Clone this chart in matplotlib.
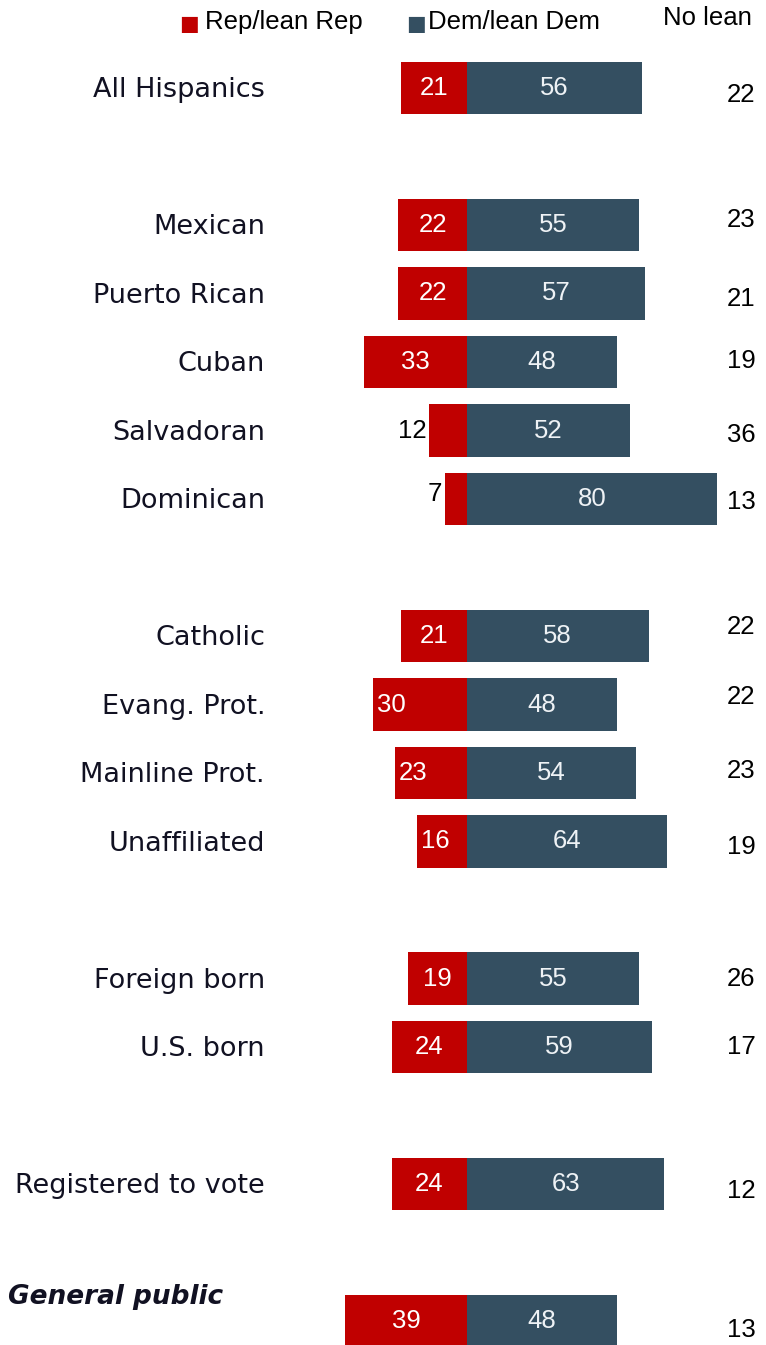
import numpy as np
import matplotlib
matplotlib.use('Agg')
import matplotlib.pyplot as plt

# data
groups = ['All Hispanics', 'Mexican', 'Puerto Rican', 'Cuban', 'Salvadoran', 'Dominican',
          'Catholic', 'Evang. Prot.', 'Mainline Prot.', 'Unaffiliated',
          'Foreign born', 'U.S. born', 'Registered to vote', 'General public']
rep = [21, 22, 22, 33, 12, 7, 21, 30, 23, 16, 19, 24, 24, 39]
dem = [56, 55, 57, 48, 52, 80, 58, 48, 54, 64, 55, 59, 63, 48]
no_lean = [22, 23, 21, 19, 36, 13, 22, 22, 23, 19, 26, 17, 12, 13]

# layout: row slot of each group (blank slot between sections)
rows = np.array([0, 2, 3, 4, 5, 6, 8, 9, 10, 11, 13, 14, 16, 18])
# small vertical nudges of the "no lean" numbers, in row units
nolean_dy = np.array([7, -5, 5, -1, 5, 3, -9, -8, -2, 5, 0, 0, 7, 9]) / 68.5

RED = '#C00000'
BLUE = '#344F61'
num_font = ['Liberation Sans', 'DejaVu Sans']
lab_font = ['DejaVu Sans']
NUM_SIZE = 18.5

px = 3.13  # pixels per percentage point
fig = plt.figure(figsize=(7.66, 13.45), dpi=100)
ax = fig.add_axes([0, 0, 1, 1])
ax.set_xlim(-467 / px, (766 - 467) / px)
ax.set_ylim((1345 - 88) / 68.5, -88 / 68.5)
ax.axis('off')

h = 0.76
ax.barh(rows, [-r for r in rep], height=h, color=RED, edgecolor='none')
ax.barh(rows, dem, height=h, color=BLUE, edgecolor='none')

left_aligned = {'Evang. Prot.', 'Mainline Prot.', 'Unaffiliated'}
for g, y, r, d, n, dy in zip(groups, rows, rep, dem, no_lean, nolean_dy):
    if g == 'General public':
        ax.text(-467 / px + 8 / px, y - 0.35, g, ha='left', va='center', fontsize=19,
                fontweight='bold', fontstyle='italic', family=lab_font, color='#111122')
    else:
        ax.text(-202 / px, y + 0.03, g, ha='right', va='center', fontsize=19.5,
                family=lab_font, color='#111122')
    if r < 15:
        ax.text(-r - 1.0, y - (0.07 if r < 10 else 0), str(r), ha='right', va='center',
                fontsize=NUM_SIZE, family=num_font, color='black')
    elif g in left_aligned:
        ax.text(-r + 1.2, y, str(r), ha='left', va='center', fontsize=NUM_SIZE,
                family=num_font, color='white')
    else:
        ax.text(-r / 2, y, str(r), ha='center', va='center', fontsize=NUM_SIZE,
                family=num_font, color='white')
    ax.text(d / 2, y, str(d), ha='center', va='center', fontsize=NUM_SIZE,
            family=num_font, color='#EEF2F5')
    ax.text(92.2, y + dy, str(n), ha='right', va='center', fontsize=NUM_SIZE,
            family=num_font, color='black')

# legend row
ly = -0.96
ax.text(-88.7, ly + 0.03, '\u25a0', color=RED, ha='center', va='center', fontsize=15)
ax.text(-83.7, ly, 'Rep/lean Rep', ha='left', va='center', fontsize=18.5, family=num_font)
ax.text(-16.3, ly + 0.03, '\u25a0', color=BLUE, ha='center', va='center', fontsize=15)
ax.text(-12.6, ly, 'Dem/lean Dem', ha='left', va='center', fontsize=18.5, family=num_font)
ax.text(91, ly - 0.06, 'No lean', ha='right', va='center', fontsize=18.5, family=num_font)

fig.savefig('out.png', dpi=100)
